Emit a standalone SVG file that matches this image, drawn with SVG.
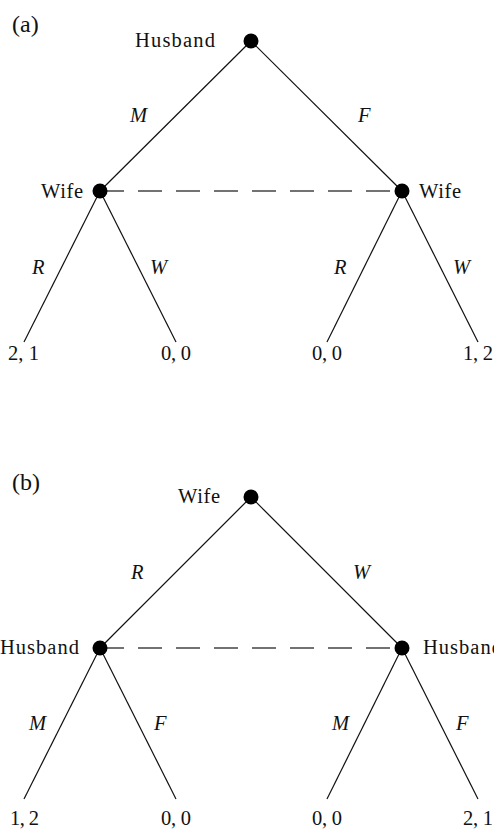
<svg xmlns="http://www.w3.org/2000/svg" width="494" height="830" viewBox="0 0 494 830">
<style>
.e{stroke:#111;stroke-width:1.2;fill:none}
.d{stroke:#444;stroke-width:1.3;fill:none;stroke-dasharray:24 14}
.n{fill:#000}
text{font-family:"Liberation Serif","Times New Roman",serif;font-size:20.5px;fill:#111}
.i{font-style:italic}
.p{font-size:24px}
</style>
<rect width="494" height="830" fill="#fff"/>
<g id="connectors">
<line class="e" x1="251" y1="41" x2="100" y2="191"/>
<line class="e" x1="251" y1="41" x2="402" y2="191"/>
<line class="e" x1="100" y1="191" x2="24" y2="342"/>
<line class="e" x1="100" y1="191" x2="176" y2="342"/>
<line class="e" x1="402" y1="191" x2="327" y2="342"/>
<line class="e" x1="402" y1="191" x2="478" y2="342"/>
<line class="d" x1="100" y1="191" x2="402" y2="191"/>
<line class="e" x1="251" y1="497" x2="100" y2="648"/>
<line class="e" x1="251" y1="497" x2="402" y2="648"/>
<line class="e" x1="100" y1="648" x2="24" y2="799"/>
<line class="e" x1="100" y1="648" x2="176" y2="799"/>
<line class="e" x1="402" y1="648" x2="327" y2="799"/>
<line class="e" x1="402" y1="648" x2="478" y2="799"/>
<line class="d" x1="100" y1="648" x2="402" y2="648"/>
</g>
<g id="edge-labels">
<text class="i" x="130" y="122">M</text>
<text class="i" x="358" y="122">F</text>
<text class="i" x="32" y="274">R</text>
<text class="i" x="150" y="274">W</text>
<text class="i" x="334" y="274">R</text>
<text class="i" x="453" y="274">W</text>
<text class="i" x="131" y="579">R</text>
<text class="i" x="353" y="579">W</text>
<text class="i" x="29" y="730">M</text>
<text class="i" x="154" y="730">F</text>
<text class="i" x="332" y="730">M</text>
<text class="i" x="456" y="730">F</text>
</g>
<g id="panel-a">
<text class="p" x="12" y="32">(a)</text>
<g id="a-root"><circle class="n" cx="251" cy="41" r="7.5"/><text x="135" y="47" textLength="80">Husband</text></g>
<g id="a-wife-left"><circle class="n" cx="100" cy="191" r="7.5"/><text x="41" y="198" textLength="42">Wife</text></g>
<g id="a-wife-right"><circle class="n" cx="402" cy="191" r="7.5"/><text x="419" y="198" textLength="42">Wife</text></g>
<g id="a-leaf1"><text x="8" y="360" textLength="31">2, 1</text></g>
<g id="a-leaf2"><text x="161" y="360" textLength="30">0, 0</text></g>
<g id="a-leaf3"><text x="312" y="360" textLength="30">0, 0</text></g>
<g id="a-leaf4"><text x="463" y="360" textLength="30">1, 2</text></g>
</g>
<g id="panel-b">
<text class="p" x="12" y="490">(b)</text>
<g id="b-root"><circle class="n" cx="251" cy="497" r="7.5"/><text x="178" y="503" textLength="42">Wife</text></g>
<g id="b-husband-left"><circle class="n" cx="100" cy="648" r="7.5"/><text x="0" y="654" textLength="79">Husband</text></g>
<g id="b-husband-right"><circle class="n" cx="402" cy="648" r="7.5"/><text x="423" y="654" textLength="79">Husband</text></g>
<g id="b-leaf1"><text x="10" y="825" textLength="29">1, 2</text></g>
<g id="b-leaf2"><text x="161" y="825" textLength="30">0, 0</text></g>
<g id="b-leaf3"><text x="312" y="825" textLength="30">0, 0</text></g>
<g id="b-leaf4"><text x="463" y="825" textLength="30">2, 1</text></g>
</g>
</svg>
